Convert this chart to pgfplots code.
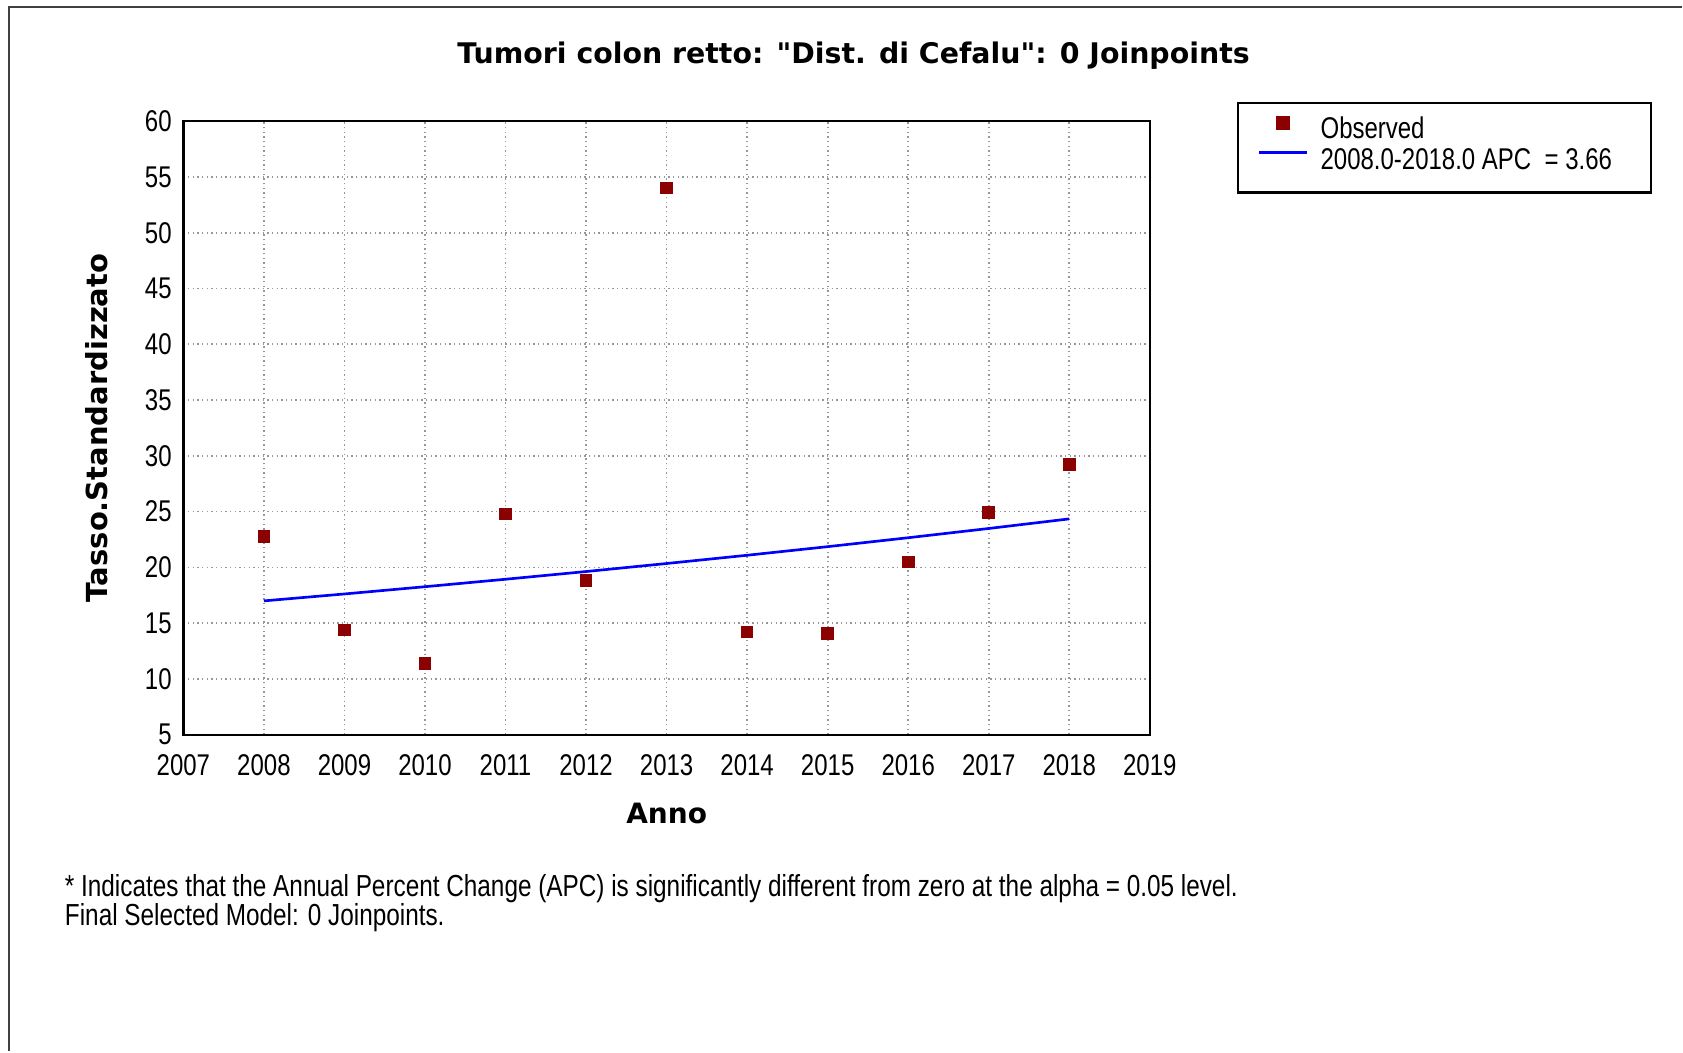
\documentclass[border=0pt]{standalone}
\usepackage{fontspec}
\setmainfont{Liberation Sans}
\newfontfamily\narrowfont[FakeStretch=0.8]{Liberation Sans}
\newfontfamily\verdanafont{DejaVu Sans}
\usepackage{pgfplots}
\pgfplotsset{compat=1.18}
\definecolor{obsred}{RGB}{139,0,0}
\definecolor{fitblue}{RGB}{0,0,255}
\definecolor{gridgray}{RGB}{150,150,150}
\newcommand{\smallnarrow}{\narrowfont\fontsize{9}{10}\selectfont}
\newcommand{\boldlab}{\verdanafont\bfseries\fontsize{8.4}{10}\selectfont}
\pgfplotsset{
  markimg/.style={legend image code/.code={\draw[mark repeat=2,mark phase=2,##1] plot coordinates {(0pt,4.8pt) (7.2pt,4.8pt) (14.4pt,4.8pt)};}},
  lineimg/.style={legend image code/.code={\draw[##1] (0pt,5.1pt) -- (14.4pt,5.1pt);}},
}

\begin{document}
\begin{tikzpicture}
\path (0,0) rectangle (504.9pt,315.6pt);
\draw[black!75, line width=0.6pt] (2.58pt,0pt) -- (2.58pt,313.35pt) -- (504.9pt,313.35pt);
\begin{axis}[
  at={(55.05pt,95.04pt)}, anchor=south west,
  scale only axis, width=290.1pt, height=184.2pt,
  xmin=2007, xmax=2019, ymin=5, ymax=60,
  xtick={2007,2008,...,2019}, ytick={5,10,...,60},
  major tick length=0pt,
  grid=major,
  major grid style={gridgray, densely dotted, line width=0.5pt},
  axis line style={black, line width=0.7pt},
  tick label style={font=\smallnarrow},
  /pgf/number format/1000 sep={},
  /pgf/number format/assume math mode=true,
  xticklabel style={yshift=-2.5pt},
  title={Tumori colon retto: "Dist. di Cefalu": 0 Joinpoints},
  title style={at={(axis description cs:0.6934,1.0735)}, anchor=center, yshift=0pt,
    font=\verdanafont\bfseries\fontsize{8.52}{10}\selectfont},
  xlabel={Anno}, ylabel={Tasso.Standardizzato},
  every axis x label/.style={at={(axis description cs:0.5,-0.129)}, anchor=center},
  every axis y label/.style={at={(axis description cs:-0.0898,0.5)}, anchor=center, rotate=90,
    font=\verdanafont\bfseries\fontsize{8.7}{10}\selectfont},
  xlabel style={font=\boldlab},
  legend cell align=left,
  legend style={at={(axis description cs:1.09,1.0313)}, anchor=north west,
    draw=black, line width=0.7pt, inner xsep=6pt, inner ysep=4.2pt,
    column sep=3.6pt, row sep=0.3pt, font=\smallnarrow,
    nodes={inner sep=0pt, text height=6.4pt, text depth=2.6pt},
    cells={anchor=base west}},
]
\addplot[only marks, mark=square*, mark size=1.7pt, color=obsred, markimg]
coordinates {
(2008, 22.8)
(2009, 14.4)
(2010, 11.4)
(2011, 24.8)
(2012, 18.85)
(2013, 54.0)
(2014, 14.2)
(2015, 14.1)
(2016, 20.5)
(2017, 24.9)
(2018, 29.2)
};
\addlegendentry{\makebox[93.2pt][l]{Observed}}

\addplot[fitblue, line width=0.8pt, mark=none, lineimg]
coordinates {
(2008, 17.00)
(2009, 17.62)
(2010, 18.27)
(2011, 18.94)
(2012, 19.63)
(2013, 20.35)
(2014, 21.09)
(2015, 21.86)
(2016, 22.66)
(2017, 23.49)
(2018, 24.35)
};
\addlegendentry{\makebox[93.2pt][l]{2008.0-2018.0 APC\ \ = 3.66}}
\end{axis}
\node[anchor=base west, inner sep=0pt, font=\narrowfont\fontsize{9.13}{10}\selectfont] at (19.3pt,46.45pt)
  {* Indicates that the Annual Percent Change (APC) is significantly different from zero at the alpha = 0.05 level.};
\node[anchor=base west, inner sep=0pt, font=\narrowfont\fontsize{9.13}{10}\selectfont] at (19.3pt,37.75pt)
  {Final Selected Model: 0 Joinpoints.};
\end{tikzpicture}
\end{document}
